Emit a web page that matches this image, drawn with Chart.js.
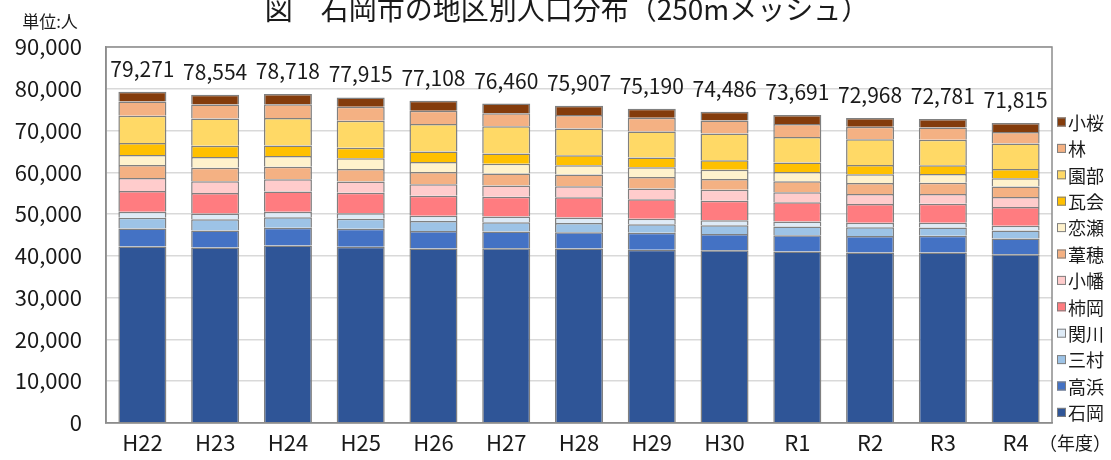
<!DOCTYPE html>
<html lang="ja">
<head>
<meta charset="utf-8">
<script src="https://cdn.jsdelivr.net/npm/chart.js@4.4.1/dist/chart.umd.min.js"></script>
<style>
  html, body { margin: 0; padding: 0; background: #fff; }
  #wrap { width: 1111px; height: 460px; }
</style>
</head>
<body>
<div id="wrap"><canvas id="chart"></canvas></div>
<script>
const years = ["H22", "H23", "H24", "H25", "H26", "H27", "H28", "H29", "H30", "R1", "R2", "R3", "R4"];

// 地区別人口（人）
const ishioka  = [42221, 41954, 42468, 42165, 41758, 41810, 41757, 41440, 41336, 41041, 40768, 40781, 40365];
const takahama = [4300, 4100, 4250, 4300, 4200, 4000, 3900, 4100, 3900, 3900, 3950, 4000, 3800];
const mimura   = [2600, 2700, 2500, 2400, 2400, 2200, 2200, 2000, 2050, 2100, 2100, 2000, 1900];
const sekikawa = [1400, 1400, 1300, 1300, 1200, 1400, 1300, 1300, 1200, 1150, 1100, 1100, 1100];
const kakioka  = [5000, 4900, 4900, 4950, 4800, 4700, 4850, 4700, 4700, 4650, 4500, 4600, 4500];
const obata    = [3100, 2800, 2900, 2700, 2800, 2700, 2650, 2600, 2600, 2400, 2400, 2300, 2400];
const ashiho   = [3100, 3200, 3000, 2950, 2900, 2900, 2800, 2750, 2600, 2600, 2600, 2700, 2550];
const koise    = [2400, 2600, 2600, 2600, 2400, 2300, 2200, 2300, 2200, 2200, 2100, 2100, 1950];
const kawarago = [2900, 2700, 2500, 2500, 2500, 2500, 2400, 2350, 2300, 2300, 2200, 2100, 2200];
const sonobe   = [6500, 6500, 6550, 6500, 6600, 6500, 6400, 6200, 6400, 6100, 6200, 6100, 6100];
const hayashi  = [3400, 3400, 3350, 3300, 3150, 3150, 3250, 3300, 3100, 3100, 3000, 2950, 2750];
const kozakura = [2350, 2300, 2400, 2250, 2400, 2300, 2200, 2150, 2100, 2150, 2050, 2050, 2200];

const districts = [
  ["石岡", ishioka, "#2f5597"],
  ["高浜", takahama, "#4472c4"],
  ["三村", mimura, "#9dc3e6"],
  ["関川", sekikawa, "#deebf7"],
  ["柿岡", kakioka, "#ff7c80"],
  ["小幡", obata, "#ffcccc"],
  ["葦穂", ashiho, "#f4b183"],
  ["恋瀬", koise, "#fff2cc"],
  ["瓦会", kawarago, "#ffc000"],
  ["園部", sonobe, "#ffd966"],
  ["林", hayashi, "#f4b183"],
  ["小桜", kozakura, "#843c0c"],
];

const FONT = '"Noto Sans CJK JP", "Noto Sans", sans-serif';
const TEXT = "#1a1a1a";
const fmt = (v) => v.toLocaleString("en-US");

// plot frame (top / right edges too)
const frame = {
  id: "frame",
  beforeDatasetsDraw(chart) {
    const { ctx, chartArea: a } = chart;
    ctx.save();
    ctx.strokeStyle = "#8c8c8c";
    ctx.lineWidth = 1.5;
    ctx.strokeRect(a.left, a.top, a.right - a.left, a.bottom - a.top);
    ctx.restore();
  },
};

// totals above each stack
const totals = {
  id: "totals",
  afterDatasetsDraw(chart) {
    const { ctx } = chart;
    const top = chart.getDatasetMeta(chart.data.datasets.length - 1);
    ctx.save();
    ctx.font = `21px ${FONT}`;
    ctx.fillStyle = TEXT;
    ctx.textAlign = "center";
    ctx.textBaseline = "alphabetic";
    years.forEach((_, i) => {
      const sum = chart.data.datasets.reduce((s, d) => s + d.data[i], 0);
      const bar = top.data[i];
      ctx.fillText(fmt(sum), bar.x, bar.y - 15);
    });
    ctx.restore();
  },
};

// title, unit, year note and legend
const extras = {
  id: "extras",
  afterDraw(chart) {
    const { ctx } = chart;
    ctx.save();
    ctx.fillStyle = TEXT;
    ctx.textBaseline = "alphabetic";
    ctx.textAlign = "center";
    ctx.font = `28px ${FONT}`;
    ctx.fillText("図　石岡市の地区別人口分布（250mメッシュ）", 567, 20);

    ctx.font = `17px ${FONT}`;
    ctx.fillText("単位:人", 50, 28);

    ctx.textAlign = "right";
    ctx.font = `18px ${FONT}`;
    ctx.fillText("（年度）", 1111, 450);

    ctx.textAlign = "left";
    ctx.textBaseline = "middle";
    const items = chart.data.datasets.slice().reverse();
    items.forEach((d, k) => {
      const y = 122 + k * 26.4;
      ctx.fillStyle = d.backgroundColor;
      ctx.fillRect(1057, y - 4.5, 9, 9);
      ctx.strokeStyle = "#808080";
      ctx.lineWidth = 1;
      ctx.strokeRect(1057.5, y - 4, 8, 8);
      ctx.fillStyle = TEXT;
      ctx.fillText(d.label, 1068, y + 1);
    });
    ctx.restore();
  },
};

new Chart(document.getElementById("chart"), {
  type: "bar",
  data: {
    labels: years,
    datasets: districts.map(([label, data, color]) => ({
      label,
      data,
      backgroundColor: color,
      borderColor: "#808080",
      borderWidth: 1.5,
      categoryPercentage: 1,
      barPercentage: 0.66,
    })),
  },
  options: {
    responsive: true,
    maintainAspectRatio: false,
    animation: false,
    layout: { padding: { top: 47, right: 59, left: 0, bottom: 0 } },
    plugins: {
      legend: { display: false },
      tooltip: { enabled: false },
    },
    scales: {
      x: {
        stacked: true,
        grid: { display: false, drawTicks: false },
        border: { color: "#8c8c8c", width: 1.5 },
        ticks: { font: { family: FONT, size: 22 }, color: TEXT, padding: 7 },
        afterFit: (s) => { s.height = 35; },
      },
      y: {
        stacked: true,
        min: 0,
        max: 90000,
        grid: { color: "#d9d9d9", lineWidth: 1.5, drawTicks: false },
        border: { color: "#8c8c8c", width: 1.5 },
        ticks: {
          stepSize: 10000,
          padding: 24,
          font: { family: FONT, size: 22 },
          color: TEXT,
          callback: (v) => fmt(v),
        },
        afterFit: (s) => { s.width = 106; },
      },
    },
  },
  plugins: [frame, totals, extras],
});
</script>
</body>
</html>
